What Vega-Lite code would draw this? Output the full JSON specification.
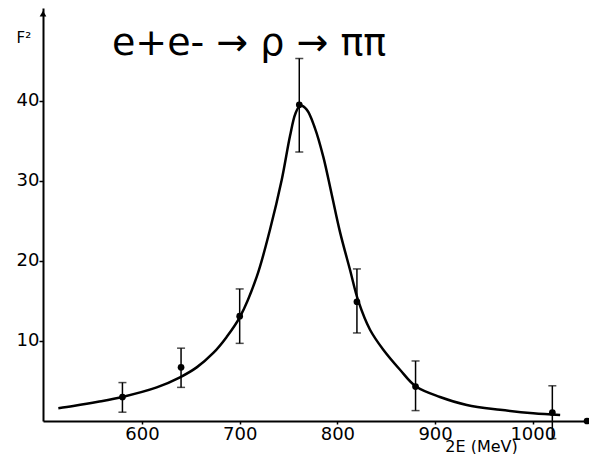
{
  "$schema": "https://vega.github.io/schema/vega-lite/v6.json",
  "autosize": "none",
  "width": 545,
  "height": 413,
  "padding": {"left": 43, "top": 8, "right": 1, "bottom": 33},
  "background": "white",
  "config": {
    "view": {"stroke": null},
    "font": "DejaVu Sans",
    "axis": {"grid": false, "domainColor": "black", "tickColor": "black", "labelColor": "black", "titleColor": "black", "labelFont": "DejaVu Sans", "titleFont": "DejaVu Sans", "titleFontWeight": "normal"}
  },
  "datasets": {
    "curve": [
      {"x": 514.4, "y": 1.59},
      {"x": 529.7, "y": 1.87},
      {"x": 555, "y": 2.4},
      {"x": 580.9, "y": 3.04},
      {"x": 615.1, "y": 4.2},
      {"x": 638.9, "y": 5.46},
      {"x": 656, "y": 6.7},
      {"x": 673, "y": 8.5},
      {"x": 686.7, "y": 10.5},
      {"x": 700.3, "y": 13.0},
      {"x": 717.4, "y": 18.0},
      {"x": 731, "y": 23.9},
      {"x": 743, "y": 30.1},
      {"x": 751.5, "y": 35.6},
      {"x": 757, "y": 38.4},
      {"x": 762, "y": 39.4},
      {"x": 768.6, "y": 38.9},
      {"x": 777, "y": 36.6},
      {"x": 785.6, "y": 33.0},
      {"x": 794.2, "y": 28.3},
      {"x": 802.7, "y": 23.6},
      {"x": 812.9, "y": 18.9},
      {"x": 821.4, "y": 15.0},
      {"x": 833.4, "y": 11.4},
      {"x": 847, "y": 8.9},
      {"x": 864.1, "y": 6.4},
      {"x": 880.5, "y": 4.3},
      {"x": 905, "y": 3.0},
      {"x": 932.4, "y": 2.0},
      {"x": 966.5, "y": 1.4},
      {"x": 1000.5, "y": 0.96},
      {"x": 1028, "y": 0.75}
    ],
    "points": [
      {"x": 580, "y": 3.0, "lo": 1.1, "hi": 4.8},
      {"x": 640, "y": 6.7, "lo": 4.2, "hi": 9.1},
      {"x": 700, "y": 13.1, "lo": 9.7, "hi": 16.5},
      {"x": 761, "y": 39.5, "lo": 33.6, "hi": 45.3},
      {"x": 820, "y": 14.9, "lo": 11.0, "hi": 19.0},
      {"x": 880, "y": 4.3, "lo": 1.3, "hi": 7.5},
      {"x": 1020, "y": 1.06, "lo": -2.2, "hi": 4.4}
    ],
    "label": [
      {"x": 569.3, "y": 45.7, "text": "e+e- → ρ → ππ"}
    ],
    "axisEnds": [
      {"x": 498.7, "y": 50.9, "shape": "triangle-up"},
      {"x": 1055.5, "y": 0, "shape": "circle"}
    ]
  },
  "encoding": {
    "x": {
      "field": "x", "type": "quantitative",
      "scale": {"domain": [498.7, 1056.5], "nice": false, "zero": false},
      "axis": {"values": [600, 700, 800, 900, 1000], "format": "d", "labelFontSize": 18, "domainWidth": 2, "tickSize": 3, "tickWidth": 1.5, "labelPadding": 1, "title": "2E (MeV)", "titleFontSize": 16, "titleX": 438, "titleY": 30, "titleBaseline": "alphabetic", "titleAlign": "center", "titleAnchor": null}
    },
    "y": {
      "field": "y", "type": "quantitative",
      "scale": {"domain": [0, 51.6], "nice": false, "zero": false},
      "axis": {"values": [10, 20, 30, 40], "format": "d", "labelFontSize": 18, "domainWidth": 2, "tickSize": 4, "tickWidth": 1.5, "labelPadding": 0, "title": "F²", "titleFontSize": 15, "titleAngle": 0, "titleX": -27, "titleY": 34, "titleAlign": "left", "titleBaseline": "alphabetic"}
    }
  },
  "layer": [
    {
      "data": {"name": "curve"},
      "mark": {"type": "line", "color": "black", "strokeWidth": 2.5, "interpolate": "catmull-rom"}
    },
    {
      "data": {"name": "points"},
      "mark": {"type": "errorbar", "ticks": {"size": 8, "thickness": 1.5, "color": "black"}, "rule": {"strokeWidth": 1.5, "color": "black"}, "clip": false},
      "encoding": {
        "y": {"field": "lo", "type": "quantitative", "title": "F²"},
        "y2": {"field": "hi"}
      }
    },
    {
      "data": {"name": "points"},
      "mark": {"type": "point", "filled": true, "color": "black", "size": 45, "opacity": 1}
    },
    {
      "data": {"name": "label"},
      "mark": {"type": "text", "align": "left", "baseline": "alphabetic", "fontSize": 38, "font": "DejaVu Sans", "color": "black"},
      "encoding": {"text": {"field": "text"}}
    },
    {
      "data": {"name": "axisEnds"},
      "mark": {"type": "point", "filled": true, "color": "black", "size": 45, "opacity": 1, "clip": false},
      "encoding": {"shape": {"field": "shape", "type": "nominal", "scale": null}}
    }
  ]
}
